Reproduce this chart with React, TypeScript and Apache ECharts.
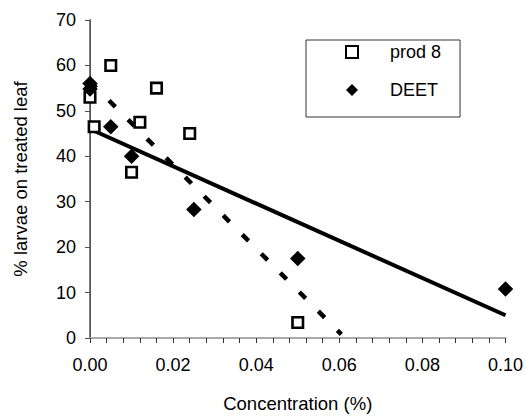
import React, { useEffect, useRef } from "react";
import * as echarts from "echarts";

const prod8X = [0, 0.001, 0.005, 0.01, 0.012, 0.016, 0.024, 0.05];
const prod8Y = [53, 46.5, 60, 36.5, 47.5, 55, 45, 3.4];
const deetX = [0, 0, 0.005, 0.01, 0.025, 0.05, 0.1];
const deetY = [56, 54.8, 46.5, 40, 28.3, 17.5, 10.8];
const solidTrendX = [0, 0.1];
const solidTrendY = [46, 5];
const dashTrendX = [0, 0.0605];
const dashTrendY = [56.5, 0.8];
const yTicks = [0, 10, 20, 30, 40, 50, 60, 70];

const zip = (xs: number[], ys: number[]) => xs.map((x, i) => [x, ys[i]]);

export default function App() {
  const ref = useRef<HTMLDivElement>(null);
  useEffect(() => {
    const chart = echarts.init(ref.current!, undefined, { renderer: "svg" });
    const font = "Liberation Sans, Arial, sans-serif";
    chart.setOption({
      animation: false,
      backgroundColor: "#fff",
      grid: { left: 90, right: 18, top: 20, bottom: 76, show: false },
      legend: {
        orient: "vertical",
        left: 306,
        top: 40,
        data: ["prod 8", "DEET"],
        itemWidth: 12,
        itemHeight: 12,
        itemGap: 18,
        padding: [2, 19, 17, 39],
        borderColor: "#333",
        borderWidth: 1,
        borderRadius: 0,
        textStyle: {
          fontFamily: font,
          fontSize: 18,
          lineHeight: 20,
          color: "#000",
          padding: [0, 0, 0, 27],
        },
      },
      xAxis: [
        {
          type: "value",
          min: 0,
          max: 0.1,
          interval: 0.02,
          splitLine: { show: false },
          axisLine: { lineStyle: { color: "#333", width: 1 } },
          axisTick: { show: true, length: 5, lineStyle: { color: "#333" } },
          minorTick: { show: true, splitNumber: 5, length: 5, lineStyle: { color: "#333" } },
          axisLabel: {
            formatter: (v: number) => v.toFixed(2),
            fontFamily: font,
            fontSize: 18,
            color: "#000",
            margin: 18,
          },
          name: "Concentration (%)",
          nameLocation: "middle",
          nameGap: 56,
          nameTextStyle: { fontFamily: font, fontSize: 18.5, color: "#000" },
        },
        {
          type: "value",
          position: "top",
          min: 0,
          max: 0.1,
          axisLine: { show: true, lineStyle: { color: "#aaa", width: 2 } },
          axisTick: { show: false },
          axisLabel: { show: false },
          splitLine: { show: false },
        },
      ],
      yAxis: [
        {
          type: "value",
          min: 0,
          max: 70,
          interval: 10,
          splitLine: { show: false },
          axisLine: { show: true, lineStyle: { color: "#555", width: 1 } },
          axisTick: { show: true, length: 5, lineStyle: { color: "#555" } },
          axisLabel: {
            fontFamily: font,
            fontSize: 18,
            color: "#000",
            margin: 14,
            formatter: (v: number) => (yTicks.includes(v) ? String(v) : ""),
          },
          name: "% larvae on treated leaf",
          nameLocation: "middle",
          nameGap: 60,
          nameTextStyle: { fontFamily: font, fontSize: 18.5, color: "#000" },
        },
        {
          type: "value",
          position: "right",
          min: 0,
          max: 70,
          axisLine: { show: true, lineStyle: { color: "#555", width: 1.5 } },
          axisTick: { show: false },
          axisLabel: { show: false },
          splitLine: { show: false },
        },
      ],
      series: [
        {
          name: "solid trend",
          type: "line",
          data: zip(solidTrendX, solidTrendY),
          symbol: "none",
          lineStyle: { color: "#000", width: 4 },
          z: 2,
        },
        {
          name: "dash trend",
          type: "line",
          data: zip(dashTrendX, dashTrendY),
          symbol: "none",
          lineStyle: { color: "#000", width: 4.5, type: [9, 18], cap: "butt" },
          z: 2,
        },
        {
          name: "prod 8",
          type: "scatter",
          data: zip(prod8X, prod8Y),
          symbol: "rect",
          symbolSize: 10.5,
          itemStyle: { color: "#fff", borderColor: "#000", borderWidth: 2.6, opacity: 1 },
          z: 3,
        },
        {
          name: "DEET",
          type: "scatter",
          data: zip(deetX, deetY),
          symbol: "diamond",
          symbolSize: 15.5,
          itemStyle: { color: "#000", opacity: 1 },
          z: 4,
        },
      ],
    });
    return () => chart.dispose();
  }, []);
  return (
    <div
      ref={ref}
      style={{ position: "fixed", left: 0, top: 0, width: 526, height: 418, background: "#fff" }}
    />
  );
}
